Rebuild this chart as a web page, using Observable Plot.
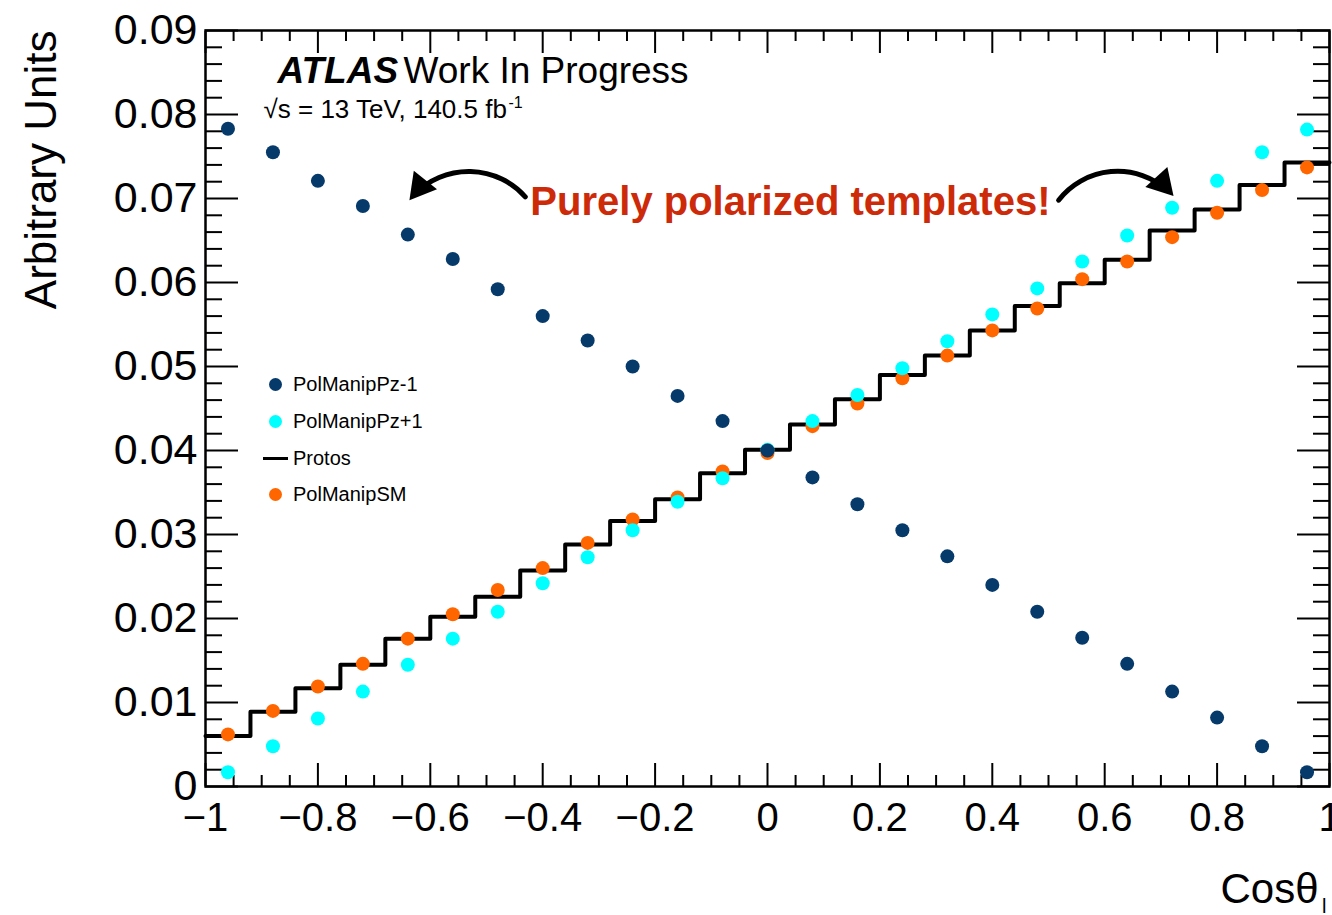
<!DOCTYPE html>
<html>
<head>
<meta charset="utf-8">
<script src="https://cdn.jsdelivr.net/npm/d3@7"></script>
<script src="https://cdn.jsdelivr.net/npm/@observablehq/plot@0.6"></script>
<style>
  html, body { margin: 0; padding: 0; background: #fff; overflow: hidden; }
  #wrap { position: relative; width: 1332px; height: 915px; font-family: "Liberation Sans", Arial, Helvetica, sans-serif; }
  #legend { position: absolute; left: 262px; top: 366.5px; font-size: 20px; color: #000; }
  #legend .row { height: 36.7px; display: flex; align-items: center; }
  #legend .mk { width: 26px; height: 36.7px; position: relative; margin-right: 5px; }
  #legend .dot { position: absolute; left: 6.5px; top: 11.85px; width: 13px; height: 13px; border-radius: 50%; }
  #legend .ln { position: absolute; left: 1px; top: 16.85px; width: 25px; height: 3px; background: #000; }
</style>
</head>
<body>
<div id="wrap"><div id="chart"></div><div id="legend"></div></div>
<script>
// ---- data ----
const binCenters = [-0.96, -0.88, -0.80, -0.72, -0.64, -0.56, -0.48, -0.40, -0.32, -0.24, -0.16, -0.08, 0.00,
                    0.08, 0.16, 0.24, 0.32, 0.40, 0.48, 0.56, 0.64, 0.72, 0.80, 0.88, 0.96];
const binWidth = 0.08;
const pzMinus1 = [0.0783, 0.0755, 0.0721, 0.0691, 0.0657, 0.0628, 0.0592, 0.0560, 0.0531, 0.0500, 0.0465, 0.0435, 0.0400,
                  0.0368, 0.0336, 0.0305, 0.0274, 0.0240, 0.0208, 0.0177, 0.0146, 0.0113, 0.0082, 0.0048, 0.0017];
const pzPlus1  = [0.0017, 0.0048, 0.0081, 0.0113, 0.0145, 0.0176, 0.0208, 0.0242, 0.0273, 0.0305, 0.0339, 0.0367, 0.0401,
                  0.0435, 0.0466, 0.0498, 0.0530, 0.0562, 0.0593, 0.0625, 0.0656, 0.0689, 0.0721, 0.0755, 0.0782];
const protos   = [0.0060, 0.0089, 0.0117, 0.0145, 0.0176, 0.0202, 0.0226, 0.0257, 0.0288, 0.0316, 0.0342, 0.0373, 0.0401,
                  0.0431, 0.0461, 0.0490, 0.0513, 0.0543, 0.0572, 0.0599, 0.0627, 0.0662, 0.0687, 0.0716, 0.0743];
const polSM    = [0.0062, 0.0090, 0.0119, 0.0146, 0.0176, 0.0205, 0.0234, 0.0260, 0.0290, 0.0318, 0.0344, 0.0375, 0.0397,
                  0.0429, 0.0456, 0.0486, 0.0513, 0.0543, 0.0569, 0.0604, 0.0625, 0.0654, 0.0683, 0.0710, 0.0737];

const seriesNames  = ["PolManipPz-1", "PolManipPz+1", "Protos", "PolManipSM"];
const seriesColors = ["#063a6b", "#00ffff", "#000000", "#ff6600"];

const xTicks      = [-1, -0.8, -0.6, -0.4, -0.2, 0, 0.2, 0.4, 0.6, 0.8, 1];
const xTickLabels = ["\u22121", "\u22120.8", "\u22120.6", "\u22120.4", "\u22120.2", "0", "0.2", "0.4", "0.6", "0.8", "1"];
const yTicks      = [0, 0.01, 0.02, 0.03, 0.04, 0.05, 0.06, 0.07, 0.08, 0.09];
const yTickLabels = ["0", "0.01", "0.02", "0.03", "0.04", "0.05", "0.06", "0.07", "0.08", "0.09"];

// annotation: text anchor, curved arrows (tail -> tip), filled arrowheads (centre, rotation)
const annotText = ["Purely polarized templates!"];
const annotX = [-0.422];
const annotY = [0.0680];
const arrowFrom = [[-0.431, 0.0702], [0.518, 0.0698]];
const arrowTo   = [[-0.637, 0.0698], [0.722, 0.0703]];
const arrowBend = [-50, 50];
const headAt    = [[-0.6182, 0.0714], [0.7021, 0.0718]];
const headRot   = [218.5, 138];

// ---- build tables ----
const mk = (vals) => binCenters.map((x, i) => ({x, y: vals[i]}));
const minusData = mk(pzMinus1), plusData = mk(pzPlus1), smData = mk(polSM);
const stepData = binCenters.map((c, i) => ({x: c - binWidth / 2, y: protos[i]}));
stepData.push({x: binCenters[binCenters.length - 1] + binWidth / 2, y: protos[protos.length - 1]});

const xMinor = d3.range(0, 41).map(k => +(-1 + k * 0.05).toFixed(2)).filter(v => !xTicks.some(t => Math.abs(t - v) < 1e-9));
const yMinor = d3.range(0, 46).map(k => +(k * 0.002).toFixed(3)).filter(v => !yTicks.some(t => Math.abs(t - v) < 1e-9));
const xLab = new Map(xTicks.map((t, i) => [t, xTickLabels[i]]));
const yLab = new Map(yTicks.map((t, i) => [t, yTickLabels[i]]));
const none = () => "";
const annot = annotText.map((t, i) => ({text: t, x: annotX[i], y: annotY[i]}));
const arrows = arrowFrom.map((f, i) => ({x1: f[0], y1: f[1], x2: arrowTo[i][0], y2: arrowTo[i][1]}));
const heads = headAt.map((h, i) => ({x: h[0], y: h[1], rot: headRot[i]}));

const chart = Plot.plot({
  width: 1332, height: 915,
  marginLeft: 205, marginRight: 3, marginTop: 30, marginBottom: 129,
  style: {fontFamily: "'Liberation Sans', Arial, Helvetica, sans-serif", background: "white", overflow: "visible"},
  x: {domain: [-1, 1]},
  y: {domain: [0, 0.09]},
  marks: [
    // ticks (ROOT style, inward on all sides)
    Plot.axisX(xTicks, {anchor: "bottom", tickSize: -23, tickPadding: 39, tickFormat: d => xLab.get(d), fontSize: 40, strokeWidth: 2, label: null}),
    Plot.axisX(xMinor, {anchor: "bottom", tickSize: -11, tickFormat: none, strokeWidth: 2, label: null}),
    Plot.axisX(xTicks, {anchor: "top", tickSize: -22, tickFormat: none, strokeWidth: 2, label: null}),
    Plot.axisX(xMinor, {anchor: "top", tickSize: -10, tickFormat: none, strokeWidth: 2, label: null}),
    Plot.axisY(yTicks, {anchor: "left", tickSize: -33, tickPadding: 41, tickFormat: d => yLab.get(d), fontSize: 43, strokeWidth: 2, label: null}),
    Plot.axisY(yMinor, {anchor: "left", tickSize: -17, tickFormat: none, strokeWidth: 2, label: null}),
    Plot.axisY(yTicks, {anchor: "right", tickSize: -33, tickFormat: none, strokeWidth: 2, label: null}),
    Plot.axisY(yMinor, {anchor: "right", tickSize: -17, tickFormat: none, strokeWidth: 2, label: null}),
    Plot.frame({stroke: "black", strokeWidth: 2.5}),
    // Protos histogram outline
    Plot.line(stepData, {x: "x", y: "y", curve: "step-after", stroke: seriesColors[2], strokeWidth: 4}),
    // points
    Plot.dot(smData, {x: "x", y: "y", r: 7, fill: seriesColors[3]}),
    Plot.dot(plusData, {x: "x", y: "y", r: 7, fill: seriesColors[1]}),
    Plot.dot(minusData, {x: "x", y: "y", r: 7, fill: seriesColors[0]}),
    // annotation
    Plot.text(annot, {x: "x", y: "y", text: "text", textAnchor: "start", lineAnchor: "bottom", fontSize: 40, fontWeight: "bold", fill: "#cd2a0a"}),
    Plot.arrow([arrows[0]], {x1: "x1", y1: "y1", x2: "x2", y2: "y2", bend: arrowBend[0], strokeWidth: 5, headLength: 0, insetEnd: 8, stroke: "black"}),
    Plot.arrow([arrows[1]], {x1: "x1", y1: "y1", x2: "x2", y2: "y2", bend: arrowBend[1], strokeWidth: 5, headLength: 0, insetEnd: 8, stroke: "black"}),
    Plot.dot(heads, {x: "x", y: "y", symbol: "triangle", r: 11, rotate: "rot", fill: "black", stroke: "none"}),
    // ATLAS label
    Plot.text(["ATLAS"], {frameAnchor: "top-left", dx: 72, dy: 52, textAnchor: "start", lineAnchor: "bottom", fontSize: 37, fontWeight: "bold", fontStyle: "italic", fill: "black"}),
    Plot.text(["Work In Progress"], {frameAnchor: "top-left", dx: 198, dy: 52, textAnchor: "start", lineAnchor: "bottom", fontSize: 37, fill: "black"}),
    Plot.text(["\u221As = 13 TeV, 140.5 fb"], {frameAnchor: "top-left", dx: 58, dy: 87, textAnchor: "start", lineAnchor: "bottom", fontSize: 26, fill: "black"}),
    Plot.text(["-1"], {frameAnchor: "top-left", dx: 303, dy: 77, textAnchor: "start", lineAnchor: "bottom", fontSize: 16, fill: "black"}),
    // axis titles
    Plot.text(["Arbitrary Units"], {frameAnchor: "top-left", dx: -150, dy: 0, rotate: -90, textAnchor: "end", lineAnchor: "bottom", fontSize: 44, fill: "black"}),
    Plot.text(["Cos\u03B8"], {frameAnchor: "bottom-right", dx: -11, dy: 116, textAnchor: "end", lineAnchor: "bottom", fontSize: 42, fill: "black"}),
    Plot.text(["l"], {frameAnchor: "bottom-right", dx: -3, dy: 126, textAnchor: "end", lineAnchor: "bottom", fontSize: 20, fill: "black"})
  ]
});
document.getElementById("chart").appendChild(chart);

// legend (inside the frame, as in the reference)
const legend = document.getElementById("legend");
seriesNames.forEach((name, i) => {
  const row = document.createElement("div");
  row.className = "row";
  const m = document.createElement("div");
  m.className = "mk";
  const sym = document.createElement("div");
  sym.className = name === "Protos" ? "ln" : "dot";
  sym.style.background = seriesColors[i];
  m.appendChild(sym);
  const t = document.createElement("span");
  t.textContent = name;
  row.appendChild(m);
  row.appendChild(t);
  legend.appendChild(row);
});
</script>
</body>
</html>
